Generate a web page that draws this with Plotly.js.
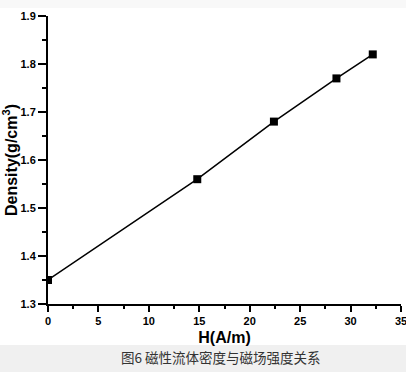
<!DOCTYPE html>
<html>
<head>
<meta charset="utf-8">
<script src="https://cdn.plot.ly/plotly-3.0.1.min.js"></script>
<style>html,body{margin:0;padding:0;background:#fff;}#chart{width:406px;height:372px;}</style>
</head>
<body>
<div id="chart"></div>
<script>
const fieldH = [0, 14.8, 22.4, 28.6, 32.2];
const density = [1.35, 1.56, 1.68, 1.77, 1.82];
const xTitle = 'H(A/m)';
const yTitle = 'Density(g/cm<sup>3</sup>)';
const caption = '图6 磁性流体密度与磁场强度关系';

const W = 406, H = 372;
const m = {l: 48, r: 5, t: 16, b: 68};
const pw = W - m.l - m.r, ph = H - m.t - m.b;
const py = v => (H - m.b - v) / ph; // pixel y -> paper
const px = v => (v - m.l) / pw;

const tickFont = {family: 'Arial, "Liberation Sans", sans-serif', size: 11, color: '#000', weight: 'bold'};
const titleFont = {family: 'Arial, "Liberation Sans", sans-serif', size: 16, color: '#000', weight: 'bold'};

const trace = {
  x: fieldH, y: density, type: 'scatter', mode: 'lines+markers',
  line: {color: '#000', width: 1.5},
  marker: {symbol: 'square', size: 8, color: '#000'},
  cliponaxis: true
};

const layout = {
  width: W, height: H,
  margin: m,
  paper_bgcolor: '#fff', plot_bgcolor: '#fff',
  showlegend: false,
  xaxis: {
    range: [0, 35], dtick: 5, tick0: 0,
    showline: true, linewidth: 2, linecolor: '#000',
    showgrid: false, zeroline: false,
    ticks: 'outside', ticklen: 6, tickwidth: 2, tickcolor: '#000',
    minor: {dtick: 2.5, ticks: 'outside', ticklen: 3, tickwidth: 2, tickcolor: '#000', showgrid: false},
    tickfont: tickFont,
    ticklabeloverflow: 'allow',
    title: {text: xTitle, font: titleFont, standoff: 6}
  },
  yaxis: {
    range: [1.3, 1.9], dtick: 0.1, tick0: 1.3,
    tickformat: '.1f',
    showline: true, linewidth: 2, linecolor: '#000',
    showgrid: false, zeroline: false,
    ticks: 'outside', ticklen: 8, tickwidth: 2, tickcolor: '#000',
    minor: {dtick: 0.05, ticks: 'outside', ticklen: 4, tickwidth: 2, tickcolor: '#000', showgrid: false},
    tickfont: tickFont,
    title: {text: yTitle, font: titleFont, standoff: 6}
  },
  shapes: [
    {type: 'rect', xref: 'paper', yref: 'paper', x0: px(0), x1: px(W), y0: py(345), y1: py(H), fillcolor: '#f0f0f0', line: {width: 0}, layer: 'below'},
    {type: 'rect', xref: 'paper', yref: 'paper', x0: px(0), x1: px(W), y0: py(8), y1: py(0), fillcolor: '#f8f8f8', line: {width: 0}, layer: 'below'}
  ],
  annotations: [
    {text: caption, xref: 'paper', yref: 'paper', x: px(221), y: py(357), xanchor: 'center', yanchor: 'middle', showarrow: false,
     font: {family: '"Noto Sans CJK SC", sans-serif', size: 13.5, color: '#333'}}
  ]
};

Plotly.newPlot('chart', [trace], layout, {displayModeBar: false, staticPlot: true});
</script>
</body>
</html>
